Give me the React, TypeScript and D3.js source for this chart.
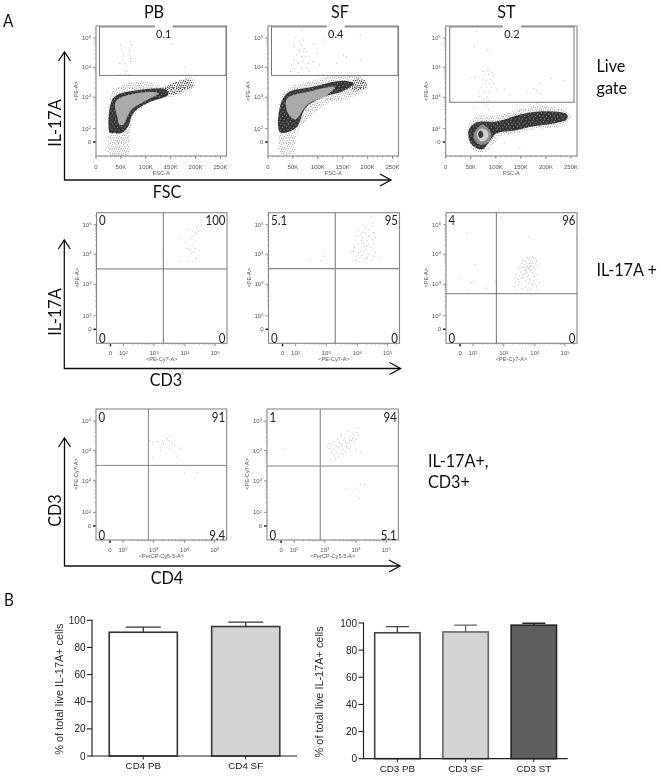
import { useEffect, useRef } from 'react';
import * as d3 from 'd3';

type Pt = [number, number];

// flow plots: x = FSC in K or decade channel, y = decade channel (0 = the "0" tick)
const fscTicks = [0, 50, 100, 150, 200, 250];
const decadeTicks = [0, 2, 3, 4, 5];

const pbGate: Pt[] = [[49,4.76],[51,4.59],[55,4.42],[53,4.25],[58,4.14],[61,3.86],[60,3.78],[69,4.88],[72,4.76],[68,4.59],[67,4.42],[69,4.31],[70,4.2],[48,4.14],[152,4.78],[179,4],[41,3.75],[48,3.75],[65,3.75],[187,3.75]];
const sfGate: Pt[] = [[54,5.02],[64,4.88],[71,4.93],[51,4.71],[61,4.59],[67,4.76],[74,4.65],[64,4.53],[71,4.53],[78,4.53],[57,4.42],[67,4.37],[76,4.37],[51,4.25],[47,4.08],[61,4.14],[71,4.2],[81,4.14],[54,3.97],[67,3.97],[78,3.97],[91,4.82],[98,4.48],[90,4.2],[104,4.08],[114,4.93],[45,3.86],[61,3.83],[84,3.86],[67,5.27],[185,5.1],[151,4.42],[185,4.24],[158,4.37],[138,4.14]];
const stGate: Pt[] = [[62,5.21],[58,4.71],[83,4.57],[90,4.54],[75,3.86],[82,3.9],[87,3.9],[92,3.83],[78,3.75],[85,3.75],[95,3.75],[50,3.64],[58,3.67],[75,3.58],[82,3.58],[90,3.6],[78,3.47],[87,3.47],[96,3.47],[72,3.34],[82,3.34],[92,3.34],[101,3.27],[65,3.19],[78,3.19],[88,3.19],[68,3.03],[82,3],[76,2.92],[85,2.89],[118,3.25],[128,3.08],[161,3.14],[176,3.3],[188,3.47],[211,3.64],[236,3.56],[189,3.14],[181,3.23],[57,2.66],[82,2.76],[85,2.6],[168,2.76],[181,2.79],[148,-0.83],[118,-0.12]];

const pbHalo: Pt[] = [[28,-1.8],[25,1.36],[27,2.92],[38,3.27],[88,3.53],[142,3.38],[192,3.67],[199,3.36],[155,3.03],[122,2.92],[88,2.6],[72,2.23],[67,0.37],[65,-1.8]];
const pbTail: Pt[] = [[130,3.1],[145,3.4],[188,3.6],[195,3.4],[160,3.12]];
const pbDark: Pt[] = [[28,1.36],[28,2.7],[38,3.03],[88,3.25],[142,3.25],[145,3.08],[102,2.8],[75,2.5],[65,2.08],[52,1.36],[35,1.36]];
const pbMid: Pt[] = [[43,2.35],[40,2.87],[88,3.15],[126,3.13],[95,2.85],[72,2.62],[62,2.35],[55,2.12],[47,2.13]];
const sfHalo: Pt[] = [[22,1.3],[24,2.9],[40,3.3],[90,3.55],[150,3.75],[195,3.6],[200,3.3],[170,3.0],[120,2.8],[80,2.3],[60,1.6],[55,0],[52,-1.6],[25,-1.6]];
const sfTail: Pt[] = [[165,3.25],[172,3.6],[195,3.55],[198,3.35],[180,3.2]];
const sfDark: Pt[] = [[24,1.5],[24,2.7],[40,3.15],[90,3.35],[150,3.55],[172,3.45],[150,3.2],[110,3.0],[75,2.65],[60,2.1],[45,1.6]];
const sfMid: Pt[] = [[40,2.5],[38,2.95],[90,3.22],[134,3.34],[115,3.03],[80,2.78],[55,2.3]];
const stHalo: Pt[] = [[43,0.37],[45,2.07],[62,2.4],[101,2.4],[161,2.66],[208,2.71],[245,2.5],[246,2.29],[221,2.07],[175,1.85],[141,1.36],[108,0.86],[95,-0.36],[75,-1.55],[55,-1.07]];
const stDark: Pt[] = [[45,1.1],[48,2.02],[62,2.2],[101,2.23],[161,2.5],[208,2.55],[242,2.45],[242,2.3],[215,2.16],[168,2.05],[141,1.75],[101,1.26],[88,0.12],[72,-1.07],[52,-0.36]];
const stRing: Pt[] = [[73,2.13],[88,1.7],[91,0.8],[82,-0.2],[68,-0.36],[58,0.3],[56,1.2],[62,1.9]];
const stLight: Pt[] = [[73,2.0],[83,1.6],[85,0.9],[80,0.3],[71,0.1],[64,0.6],[62,1.3],[66,1.8]];
const stCore: Pt[] = [[70,1.7],[75,1.2],[73,0.7],[68,0.6],[65,1],[66,1.5]];

const cd3PbDots: Pt[] = [[4.55,4.99],[4.39,4.91],[4.12,4.84],[4.26,4.79],[4.45,4.76],[4.34,4.73],[4.39,4.71],[4.3,4.62],[3.84,4.57],[4.23,4.54],[4.34,4.42],[4.01,4.39],[4.28,4.31],[4.08,4.2],[4.17,4.16],[4.34,4.2],[4.47,4.12],[3.31,4.14],[4.23,4.05],[4.3,4.05],[4.39,3.86],[3.41,3.77],[3.82,3.77],[4.12,3.77],[4.26,3.77],[4.35,3.81]];
const cd3SfDots: Pt[] = [[4.46,5.25],[4.52,5.05],[4.21,5.02],[4.27,4.9],[4.49,4.95],[4.04,4.8],[4.16,4.74],[4.38,4.84],[3.99,4.62],[4.1,4.68],[4.27,4.72],[4.43,4.63],[4.54,4.74],[3.94,4.48],[4.17,4.55],[4.32,4.47],[4.49,4.5],[4.6,4.56],[4.04,4.35],[4.2,4.41],[4.37,4.34],[4.55,4.38],[3.91,4.22],[4.11,4.14],[4.28,4.17],[4.43,4.23],[3.77,4.06],[3.88,4.1],[4.04,4.03],[4.22,4.1],[4.41,4],[4.6,4.06],[4.15,3.96],[4.34,3.9],[4.54,3.94],[4.74,3.87],[3.94,3.79],[4.08,3.76],[4.27,3.85],[4.49,3.81],[3.99,3.94],[2.48,3.83],[2.92,4.08],[2.81,3.78],[2.92,3.92],[4.3,4.28],[4.13,4.46],[4.36,4.6],[4.22,4.26]];
const cd3StDots: Pt[] = [[2.92,5.24],[1.18,4.72],[2.07,3.66],[0,3.23],[2.03,3.08],[1.79,3.05],[1.13,2.8],[2.42,2.88],[2.72,3.1],[2.78,3.14],[3.8,4.59],[5.38,4.55],
  [3.75,3.9],[3.84,3.87],[3.93,3.91],[3.62,3.79],[3.79,3.83],[3.87,3.78],[3.99,3.84],[4.06,3.79],[3.57,3.7],[3.71,3.75],[3.83,3.69],[3.92,3.74],[4.03,3.68],[3.52,3.6],[3.68,3.65],[3.76,3.59],[3.89,3.64],[3.97,3.58],[4.09,3.62],[3.47,3.52],[3.6,3.56],[3.72,3.5],[3.83,3.55],[3.9,3.48],[4.01,3.51],[3.56,3.42],[3.66,3.47],[3.74,3.4],[3.85,3.44],[3.95,3.41],[3.41,3.33],[3.54,3.38],[3.63,3.32],[3.69,3.37],[3.8,3.3],[3.93,3.35],[4.1,3.33],[3.36,3.24],[3.5,3.29],[3.61,3.22],[3.76,3.26],[3.84,3.2],[3.99,3.25],[3.46,3.15],[3.57,3.19],[3.71,3.13],[3.82,3.17],[3.95,3.12],[4.04,3.16],[3.38,3.05],[3.5,3.09],[3.78,3.03],[3.89,3.07],[4.02,3.01],[4.15,3.06],[3.34,2.93],[3.47,2.98],[3.74,2.94],[3.93,2.99],[4.06,2.92],[3.39,2.81],[3.58,2.86],[3.78,2.8],[3.86,2.85],[4.08,2.82],[3.78,3.68],[3.86,3.6],[3.8,3.52],[3.72,3.44],[3.9,3.7],[3.66,3.55]];
const cd4PbDots: Pt[] = [[2.87,4.34],[2.96,4.28],[3.12,4.32],[3.29,4.34],[3.32,4.25],[3.45,4.4],[3.56,4.51],[3.51,4.34],[3.59,4.28],[3.4,4.43],[3.67,4.17],[3.86,4.09],[3.23,4.02],[3.53,4.05],[3.62,3.95],[2.98,3.78],[3.73,3.82],[4.01,3.26],[4.19,3.37],[4.42,3.28]];
const cd4SfDots: Pt[] = [[0.53,4.05],[3.67,2.75],[3.98,2.77],[4.15,2.89],[4.29,2.89],[4.11,2.45],[2.86,4.09],[4.06,4.74],[3.73,4.65],[4.02,4.61],[3.54,4.53],[3.78,4.49],[3.91,4.55],[4.09,4.5],[3.4,4.37],[3.62,4.43],[3.78,4.36],[3.89,4.42],[4,4.38],[3.12,4.25],[3.29,4.3],[3.47,4.26],[3.67,4.31],[3.8,4.27],[3.95,4.3],[3.07,4.15],[3.21,4.2],[3.36,4.14],[3.54,4.19],[3.69,4.15],[3.14,4.08],[3.29,4.03],[3.43,4.09],[3.58,4.04],[3.78,4.08],[4,4.04],[3.21,3.93],[3.36,3.97],[3.51,3.92],[3.67,3.98],[4.17,3.93],[3.29,3.86],[3.43,3.81],[3.56,3.87],[3.18,3.69],[3.34,3.73],[3.6,4.36],[3.71,4.24],[3.85,4.34],[3.45,4.12]];

// bar panels
const cd4Categories = ['CD4 PB', 'CD4 SF'];
const cd4Means = [91.2, 95.4];
const cd4Errors = [95, 98.7];
const cd3Categories = ['CD3 PB', 'CD3 SF', 'CD3 ST'];
const cd3Means = [92.8, 93.4, 98.4];
const cd3Errors = [97.3, 98.5, 99.8];
const barTicks = [0, 20, 40, 60, 80, 100];

const speckDark: Pt[] = [[1,1],[4.5,0.5],[8,1.7],[2.5,3],[6,3.2],[9.8,4],[0.5,5.6],[4,6],[7.6,6.4],[2,8.5],[5.5,9],[9.2,9.3]];
const speckLight: Pt[] = [[0.7,0.5],[2.6,1.4],[4.2,0.3],[6.3,1.7],[8.3,0.8],[10,2.1],[1.2,3.3],[3.4,3.6],[5.2,3.1],[7.6,3.9],[9.4,4.3],[0.4,5.4],[2.4,5.9],[4.6,5.4],[6.4,6],[8.6,6.5],[10.4,6.1],[1.5,7.9],[3.6,8],[5.8,8.3],[7.6,8.6],[9.6,8.4],[0.6,9.9],[2.8,10.2],[4.9,10],[7,10.4],[9,10.5]];

const CALIBRI_LIKE = 'Lato, "Open Sans", sans-serif';
const ARIAL = '"Liberation Sans", Arial, sans-serif';

// the cytometer axis is biexponential, so each decade gets its own stretch of the frame
function decadeScale(start: number, end: number, flip: boolean) {
  const size = Math.abs(end - start);
  const offsets = flip
    ? [130.5, 116.5, 103, 71.5, 41.5, 12, 0]
    : [0, 14, 27, 57.5, 88.5, 118.5, 130.5];
  return d3
    .scaleLinear()
    .domain([-2, 0, 2, 3, 4, 5, 5.4])
    .range(offsets.map((o) => Math.min(start, end) + (o / 130.5) * size));
}

function addPow(sel: any, pow: number) {
  sel.append('tspan').text('10');
  sel.append('tspan').attr('dy', -1.8).attr('font-size', 4.2).text(pow);
}

export default function App() {
  const svgRef = useRef<SVGSVGElement>(null);

  useEffect(() => {
    if (!svgRef.current) return;
    const svg = d3.select(svgRef.current);
    svg.selectAll('*').remove();

    const defs = svg.append('defs');
    defs.append('filter').attr('id', 'soft').attr('x', 0).attr('y', 0).attr('width', 1).attr('height', 1)
      .append('feGaussianBlur').attr('stdDeviation', 0.5);
    defs.append('filter').attr('id', 'smear').attr('x', -0.1).attr('y', -0.1).attr('width', 1.2).attr('height', 1.2)
      .append('feGaussianBlur').attr('stdDeviation', 0.7);
    const pat1 = defs.append('pattern').attr('id', 'speckDark').attr('patternUnits', 'userSpaceOnUse').attr('width', 11).attr('height', 11);
    pat1.append('rect').attr('width', 11).attr('height', 11).attr('fill', '#343434');
    speckDark.forEach(([x, y]) => pat1.append('circle').attr('cx', x).attr('cy', y).attr('r', 0.65).attr('fill', '#858585'));
    const pat2 = defs.append('pattern').attr('id', 'speckLight').attr('patternUnits', 'userSpaceOnUse').attr('width', 11).attr('height', 11);
    speckLight.forEach(([x, y]) => pat2.append('circle').attr('cx', x).attr('cy', y).attr('r', 0.45).attr('fill', '#444'));
    const pat3 = defs.append('pattern').attr('id', 'speckMid').attr('patternUnits', 'userSpaceOnUse').attr('width', 11).attr('height', 11);
    speckLight.forEach(([x, y]) => pat3.append('circle').attr('cx', x).attr('cy', y).attr('r', 0.7).attr('fill', '#333'));

    const root = svg.append('g').attr('filter', 'url(#soft)');
    root.append('rect').attr('width', 661).attr('height', 776).attr('fill', '#fff');

    const bigText = (x: number, y: number, t: string, anchor = 'start', size = 18, rotate = false) => {
      root.append('text')
        .attr('transform', `translate(${x},${y})${rotate ? ' rotate(-90)' : ''} scale(0.9,1)`)
        .attr('text-anchor', anchor)
        .attr('font-family', CALIBRI_LIKE)
        .attr('font-size', size)
        .attr('fill', '#111')
        .text(t);
    };

    const flowFrame = (
      left: number, right: number, top: number, bottom: number,
      xMode: 'fsc' | 'log', xLabel: string, yLabel: string, frameColor: string,
    ) => {
      const x: any = xMode === 'fsc'
        ? d3.scaleLinear().domain([0, 262]).range([left, right])
        : decadeScale(left, right, false);
      const y = decadeScale(top, bottom, true);
      const g = root.append('g').attr('font-family', ARIAL).attr('fill', '#555');

      // minor ticks
      const minor: number[] = [];
      [2, 3, 4].forEach((d) => d3.range(2, 10).forEach((k) => minor.push(d + Math.log10(k))));
      minor.push(5 + Math.log10(2));
      minor.forEach((d) => {
        g.append('line').attr('x1', left - 1.5).attr('x2', left).attr('y1', y(d)).attr('y2', y(d)).attr('stroke', '#777').attr('stroke-width', 0.5);
      });
      const xMinor = xMode === 'fsc' ? d3.range(0, 261, 10) : minor;
      xMinor.forEach((d) => {
        g.append('line').attr('y1', bottom).attr('y2', bottom + 1.5).attr('x1', x(d)).attr('x2', x(d)).attr('stroke', '#777').attr('stroke-width', 0.5);
      });

      decadeTicks.forEach((d) => {
        g.append('line').attr('x1', left - 3).attr('x2', left).attr('y1', y(d)).attr('y2', y(d)).attr('stroke', d === 0 ? '#111' : '#666').attr('stroke-width', d === 0 ? 1.4 : 0.7);
        const t = g.append('text').attr('x', left - 5).attr('y', y(d) + 2).attr('text-anchor', 'end').attr('font-size', 6);
        if (d === 0) t.text('0');
        else addPow(t, d);
      });
      if (xMode === 'fsc') {
        fscTicks.forEach((k) => {
          g.append('line').attr('x1', x(k)).attr('x2', x(k)).attr('y1', bottom).attr('y2', bottom + 3).attr('stroke', '#666').attr('stroke-width', 0.7);
          g.append('text').attr('x', x(k)).attr('y', bottom + 13).attr('text-anchor', 'middle').attr('font-size', 6).text(k === 0 ? '0' : `${k}K`);
        });
      } else {
        decadeTicks.forEach((d) => {
          g.append('line').attr('x1', x(d)).attr('x2', x(d)).attr('y1', bottom).attr('y2', bottom + 3).attr('stroke', d === 0 ? '#111' : '#666').attr('stroke-width', d === 0 ? 1.4 : 0.7);
          const t = g.append('text').attr('x', x(d)).attr('y', bottom + 12).attr('text-anchor', 'middle').attr('font-size', 6);
          if (d === 0) t.text('0');
          else addPow(t, d);
        });
      }
      g.append('text').attr('x', (left + right) / 2).attr('y', bottom + (xMode === 'fsc' ? 18.5 : 17.7)).attr('text-anchor', 'middle').attr('font-size', 5.6).text(xLabel);
      g.append('text')
        .attr('transform', `translate(${left - 18},${top + 65}) rotate(-90)`)
        .attr('text-anchor', 'middle').attr('font-size', 5.6).text(yLabel);
      return { x, y, g, frame: () => root.append('rect').attr('x', left).attr('y', top).attr('width', right - left).attr('height', bottom - top).attr('fill', 'none').attr('stroke', frameColor).attr('stroke-width', 1.1) };
    };

    const blob = (p: any, pts: Pt[], fill: string) => {
      const line = d3.line<Pt>().x((d) => p.x(d[0])).y((d) => p.y(d[1])).curve(d3.curveCatmullRomClosed);
      const path = root.append('path').attr('d', line(pts)).attr('fill', fill);
      if (fill !== 'url(#speckLight)' && fill !== 'url(#speckMid)') path.attr('filter', 'url(#smear)');
    };
    const dots = (p: any, pts: Pt[], color = '#666', r = 0.42) => {
      root.append('g').selectAll('circle').data(pts).join('circle')
        .attr('cx', (d) => p.x(d[0])).attr('cy', (d) => p.y(d[1])).attr('r', r).attr('fill', color);
    };

    // top row: forward scatter against PE
    const gatePanel = (
      left: number, right: number, gateLo: number, value: string, gateDots: Pt[],
      layers: [Pt[], string][], gateEnds: [number, number],
    ) => {
      const p = flowFrame(left, right, 26, 156, 'fsc', 'FSC-A', '<PE-A>', '#888');
      layers.forEach(([pts, fill]) => blob(p, pts, fill));
      dots(p, gateDots);
      p.frame();
      root.append('rect')
        .attr('x', p.x(gateEnds[0])).attr('y', p.y(5.37))
        .attr('width', p.x(gateEnds[1]) - p.x(gateEnds[0]))
        .attr('height', p.y(gateLo) - p.y(5.37))
        .attr('fill', 'none').attr('stroke', '#777').attr('stroke-width', 1);
      const cx = p.x(gateEnds[0] + (gateEnds[1] - gateEnds[0]) / 2) + (value === '0.2' ? 0 : 1);
      root.append('rect').attr('x', cx - 9).attr('y', 25).attr('width', 18).attr('height', 3).attr('fill', '#fff');
      root.append('text').attr('transform', `translate(${cx},38) scale(0.92,1)`).attr('text-anchor', 'middle')
        .attr('font-family', CALIBRI_LIKE).attr('font-size', 12).attr('fill', '#222').text(value);
    };
    gatePanel(96, 226.5, 3.73, '0.1', pbGate, [[pbHalo, 'url(#speckLight)'], [pbTail, 'url(#speckMid)'], [pbDark, 'url(#speckDark)'], [pbMid, '#aaaaaa']], [7, 261]);
    gatePanel(268, 398.5, 3.73, '0.4', sfGate, [[sfHalo, 'url(#speckLight)'], [sfTail, 'url(#speckMid)'], [sfDark, 'url(#speckDark)'], [sfMid, '#aaaaaa']], [7, 261]);
    gatePanel(445.7, 577, 2.84, '0.2', stGate, [[stHalo, 'url(#speckLight)'], [stDark, 'url(#speckDark)'], [stRing, '#8c8c8c'], [stLight, '#cfcfcf'], [stCore, '#3a3a3a']], [8, 256]);

    // quadrant panels
    const quadPanel = (
      left: number, right: number, top: number, bottom: number, qx: number, qy: number,
      values: string[], pts: Pt[], xLabel: string, yLabel: string, lineColor: string, lineWidth: number,
    ) => {
      const p = flowFrame(left, right, top, bottom, 'log', xLabel, yLabel, '#888');
      dots(p, pts);
      p.frame();
      root.append('line').attr('x1', p.x(qx)).attr('x2', p.x(qx)).attr('y1', top).attr('y2', bottom).attr('stroke', lineColor).attr('stroke-width', lineWidth);
      root.append('line').attr('x1', left).attr('x2', right).attr('y1', p.y(qy)).attr('y2', p.y(qy)).attr('stroke', lineColor).attr('stroke-width', lineWidth);
      const label = (x: number, y: number, anchor: string, t: string) => {
        root.append('text').attr('transform', `translate(${x},${y}) scale(0.92,1)`).attr('text-anchor', anchor)
          .attr('font-family', CALIBRI_LIKE).attr('font-size', 12.5).attr('fill', '#222').text(t);
      };
      label(left + 2.5, top + 12.5, 'start', values[0]);
      label(right - 1.5, top + 12.5, 'end', values[1]);
      label(left + 2.5, bottom - 0.5, 'start', values[2]);
      label(right - 1.5, bottom - 0.5, 'end', values[3]);
    };
    quadPanel(96.5, 227, 212.7, 343.3, 3.3, 3.51, ['0', '100', '0', '0'], cd3PbDots, '<PE-Cy7-A>', '<PE-A>', '#666', 0.9);
    quadPanel(268.5, 399.5, 212.7, 343.3, 3.29, 3.52, ['5.1', '95', '0', '0'], cd3SfDots, '<PE-Cy7-A>', '<PE-A>', '#888', 1.2);
    quadPanel(446, 577, 212.7, 343.3, 2.76, 2.7, ['4', '96', '0', '0'], cd3StDots, '<PE-Cy7-A>', '<PE-A>', '#555', 0.8);
    quadPanel(96, 226.7, 409, 540, 2.83, 3.51, ['0', '91', '0', '9.4'], cd4PbDots, '<PerCP-Cy5-5-A>', '<PE-Cy7-A>', '#666', 0.8);
    quadPanel(267, 398.3, 409, 540, 2.85, 3.49, ['1', '94', '0', '5.1'], cd4SfDots, '<PerCP-Cy5-5-A>', '<PE-Cy7-A>', '#888', 1.1);

    // arrows between the rows
    const arrowAxis = (x0: number, y0: number, yTop: number, xEnd: number) => {
      const a = root.append('g').attr('fill', 'none').attr('stroke', '#111').attr('stroke-width', 1.3);
      a.append('path').attr('d', `M${x0},${yTop}V${y0}H${xEnd}`);
      a.append('path').attr('d', `M${x0 - 6},${yTop + 9}L${x0},${yTop}L${x0 + 6},${yTop + 9}`);
      a.append('path').attr('d', `M${xEnd - 11},${y0 - 6}L${xEnd},${y0}L${xEnd - 11},${y0 + 6}`);
    };
    arrowAxis(64.5, 180, 52, 391);
    arrowAxis(64.3, 368.5, 240, 400.5);
    arrowAxis(64.5, 566, 438, 400);

    bigText(3, 27, 'A', 'start', 17);
    bigText(4, 606, 'B', 'start', 17);
    bigText(154, 18, 'PB', 'middle', 18);
    bigText(340, 18, 'SF', 'middle', 18);
    bigText(506.5, 18, 'ST', 'middle', 18);
    bigText(61, 123, 'IL-17A', 'middle', 18, true);
    bigText(61, 312, 'IL-17A', 'middle', 18, true);
    bigText(61, 510.5, 'CD3', 'middle', 18, true);
    bigText(167, 198, 'FSC', 'middle', 18);
    bigText(166, 386, 'CD3', 'middle', 18);
    bigText(167, 584, 'CD4', 'middle', 18);
    bigText(596.5, 71.5, 'Live', 'start', 18);
    bigText(596.5, 94, 'gate', 'start', 18);
    bigText(596.5, 276, 'IL-17A +', 'start', 18);
    bigText(428, 467, 'IL-17A+,', 'start', 18);
    bigText(428, 488, 'CD3+', 'start', 18);

    // panel B
    const barPanel = (
      categories: string[], means: number[], errors: number[], fills: string[], strokes: string[],
      x0: number, x1: number, y0: number, y100: number, titleX: number, outer: number, capW: number, labelY: number,
    ) => {
      const x = d3.scaleBand<string>().domain(categories).range([x0, x1]).paddingInner(0.335).paddingOuter(outer);
      const y = d3.scaleLinear().domain([0, 100]).range([y0, y100]);
      const g = root.append('g').attr('font-family', ARIAL).attr('fill', '#222');
      categories.forEach((c, i) => {
        const cx = (x(c) as number) + x.bandwidth() / 2;
        g.append('path').attr('d', `M${cx},${y(means[i])}V${y(errors[i])}M${cx - capW / 2},${y(errors[i])}H${cx + capW / 2}`)
          .attr('fill', 'none').attr('stroke', strokes[i]).attr('stroke-width', 1.3);
        g.append('rect').attr('x', x(c) as number).attr('y', y(means[i])).attr('width', x.bandwidth()).attr('height', y0 - y(means[i]))
          .attr('fill', fills[i]).attr('stroke', strokes[i]).attr('stroke-width', 1.6);
        g.append('line').attr('x1', cx).attr('x2', cx).attr('y1', y0).attr('y2', y0 + 3.5).attr('stroke', '#222').attr('stroke-width', 1);
        g.append('text').attr('x', cx).attr('y', labelY).attr('text-anchor', 'middle').attr('font-size', 9.8).text(c);
      });
      g.append('line').attr('x1', x0).attr('x2', x1).attr('y1', y0).attr('y2', y0).attr('stroke', '#222').attr('stroke-width', 1.2);
      g.append('line').attr('x1', x0).attr('x2', x0).attr('y1', y0 + 0.6).attr('y2', y100 - 0.6).attr('stroke', '#222').attr('stroke-width', 1.2);
      barTicks.forEach((t) => {
        g.append('line').attr('x1', x0 - 5).attr('x2', x0).attr('y1', y(t)).attr('y2', y(t)).attr('stroke', '#222').attr('stroke-width', 1.1);
        g.append('text').attr('x', x0 - 6.5).attr('y', y(t) + 3.6).attr('text-anchor', 'end').attr('font-size', 10).text(t);
      });
      g.append('text')
        .attr('transform', `translate(${titleX},${(y0 + y100) / 2 + 1}) rotate(-90)`)
        .attr('text-anchor', 'middle').attr('font-size', 10.9).attr('fill', '#333').text('% of total live IL-17A+ cells');
    };
    barPanel(cd4Categories, cd4Means, cd4Errors, ['#fff', '#d3d3d3'], ['#333', '#3a3a3a'], 92, 297, 756, 620.3, 63, 0.168, 35, 769);
    barPanel(cd3Categories, cd3Means, cd3Errors, ['#fff', '#d3d3d3', '#5f5f5f'], ['#444', '#666', '#222'], 363.5, 567.7, 758.7, 623, 323, 0.164, 23, 771.5);
  }, []);

  return <svg ref={svgRef} width={661} height={776} style={{ position: 'absolute', left: 0, top: 0, display: 'block' }} />;
}
